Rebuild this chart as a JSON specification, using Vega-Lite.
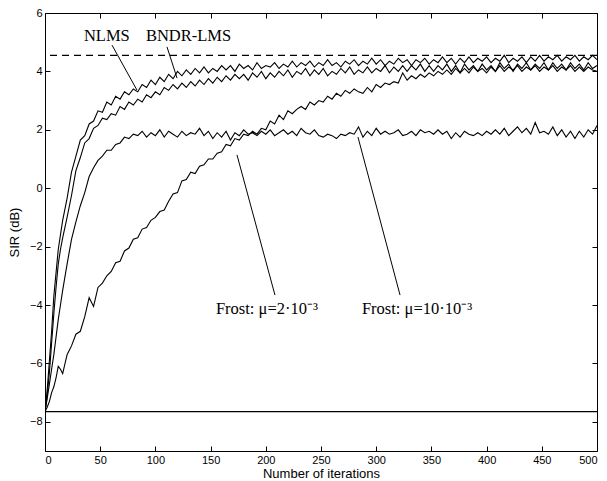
{
  "$schema": "https://vega.github.io/schema/vega-lite/v6.json",
  "autosize": "none",
  "width": 552,
  "height": 438,
  "padding": {"left": 45, "top": 13, "right": 10, "bottom": 30},
  "background": "white",
  "config": {
    "view": {"stroke": "black", "strokeWidth": 1},
    "axis": {
      "domain": false, "grid": false, "tickColor": "black", "tickSize": -5, "labelPadding": 8,
      "labelFont": "Liberation Sans", "labelFontSize": 11, "labelColor": "black",
      "titleFont": "Liberation Sans", "titleFontSize": 13, "titleFontWeight": "normal", "titleColor": "black"
    }
  },
  "datasets": {
    "curves": [
      {"x":0,"N":-7.65,"B":-7.65,"F":-7.65,"S":-7.65},
      {"x":2,"N":-6.9,"B":-7.1,"F":-7.2,"S":-7.5},
      {"x":4,"N":-5.9,"B":-6.3,"F":-6.7,"S":-7.3},
      {"x":6,"N":-4.9,"B":-5.3,"F":-6.2,"S":-7.0},
      {"x":8,"N":-3.7,"B":-4.3,"F":-5.7,"S":-6.8},
      {"x":10,"N":-2.9,"B":-3.4,"F":-5.1,"S":-6.5},
      {"x":12,"N":-2.1,"B":-2.6,"F":-4.5,"S":-6.1},
      {"x":14,"N":-1.6,"B":-2.1,"F":-4.0,"S":-6.2},
      {"x":16,"N":-1.1,"B":-1.7,"F":-3.5,"S":-6.35},
      {"x":20,"N":-0.35,"B":-1.0,"F":-2.6,"S":-5.7},
      {"x":24,"N":0.55,"B":-0.25,"F":-1.75,"S":-5.4},
      {"x":28,"N":1.1,"B":0.6,"F":-1.15,"S":-5.0},
      {"x":32,"N":1.65,"B":1.05,"F":-0.6,"S":-4.9},
      {"x":36,"N":1.8,"B":1.55,"F":-0.15,"S":-4.4},
      {"x":40,"N":2.2,"B":1.7,"F":0.4,"S":-3.75},
      {"x":44,"N":2.3,"B":2.05,"F":0.7,"S":-4.05},
      {"x":48,"N":2.65,"B":2.15,"F":0.95,"S":-3.4},
      {"x":52,"N":2.6,"B":2.4,"F":1.1,"S":-3.25},
      {"x":56,"N":2.95,"B":2.35,"F":1.3,"S":-3.0},
      {"x":60,"N":2.85,"B":2.55,"F":1.3,"S":-2.85},
      {"x":64,"N":3.15,"B":2.5,"F":1.5,"S":-2.55},
      {"x":68,"N":3.05,"B":2.8,"F":1.55,"S":-2.5},
      {"x":72,"N":3.3,"B":2.7,"F":1.75,"S":-2.15},
      {"x":76,"N":3.2,"B":2.95,"F":1.7,"S":-2.05},
      {"x":80,"N":3.4,"B":2.85,"F":1.85,"S":-1.75},
      {"x":84,"N":3.3,"B":3.05,"F":1.8,"S":-1.7},
      {"x":88,"N":3.55,"B":2.95,"F":1.95,"S":-1.4},
      {"x":92,"N":3.45,"B":3.2,"F":1.75,"S":-1.35},
      {"x":96,"N":3.7,"B":3.1,"F":1.9,"S":-1.1},
      {"x":100,"N":3.55,"B":3.3,"F":1.8,"S":-1.0},
      {"x":104,"N":3.8,"B":3.2,"F":2.0,"S":-0.8},
      {"x":108,"N":3.65,"B":3.45,"F":1.75,"S":-0.75},
      {"x":112,"N":3.9,"B":3.35,"F":1.95,"S":-0.45},
      {"x":116,"N":3.75,"B":3.55,"F":1.85,"S":-0.2},
      {"x":120,"N":4.0,"B":3.4,"F":1.75,"S":-0.15},
      {"x":124,"N":3.85,"B":3.6,"F":1.95,"S":0.25},
      {"x":128,"N":4.05,"B":3.45,"F":1.8,"S":0.3},
      {"x":132,"N":3.9,"B":3.65,"F":1.9,"S":0.55},
      {"x":136,"N":4.1,"B":3.5,"F":1.85,"S":0.5},
      {"x":140,"N":3.95,"B":3.7,"F":2.05,"S":0.75},
      {"x":144,"N":4.15,"B":3.55,"F":1.8,"S":0.8},
      {"x":148,"N":3.95,"B":3.75,"F":1.95,"S":1.0},
      {"x":152,"N":4.1,"B":3.6,"F":1.7,"S":1.0},
      {"x":156,"N":4.0,"B":3.8,"F":1.9,"S":1.2},
      {"x":160,"N":4.2,"B":3.65,"F":1.75,"S":1.25},
      {"x":164,"N":4.05,"B":3.85,"F":1.95,"S":1.5},
      {"x":168,"N":4.2,"B":3.7,"F":1.65,"S":1.45},
      {"x":172,"N":4.0,"B":3.9,"F":1.9,"S":1.7},
      {"x":176,"N":4.25,"B":3.75,"F":1.8,"S":1.65},
      {"x":180,"N":4.1,"B":3.9,"F":2.0,"S":1.85},
      {"x":184,"N":4.2,"B":3.7,"F":1.85,"S":1.8},
      {"x":188,"N":4.05,"B":3.95,"F":1.9,"S":1.95},
      {"x":192,"N":4.3,"B":3.8,"F":1.8,"S":1.85},
      {"x":196,"N":4.1,"B":4.0,"F":1.95,"S":2.05},
      {"x":200,"N":4.2,"B":3.75,"F":1.85,"S":2.0},
      {"x":204,"N":4.15,"B":3.95,"F":2.0,"S":2.3},
      {"x":208,"N":4.3,"B":3.8,"F":1.8,"S":2.2},
      {"x":212,"N":4.1,"B":4.0,"F":1.9,"S":2.5},
      {"x":216,"N":4.25,"B":3.85,"F":2.0,"S":2.35},
      {"x":220,"N":4.15,"B":4.05,"F":1.85,"S":2.65},
      {"x":224,"N":4.35,"B":3.8,"F":1.95,"S":2.55},
      {"x":228,"N":4.15,"B":4.0,"F":1.8,"S":2.7},
      {"x":232,"N":4.3,"B":3.9,"F":2.05,"S":2.8},
      {"x":236,"N":4.2,"B":4.1,"F":1.9,"S":2.7},
      {"x":240,"N":4.35,"B":3.85,"F":1.85,"S":2.95},
      {"x":244,"N":4.15,"B":4.05,"F":2.0,"S":2.85},
      {"x":248,"N":4.3,"B":3.9,"F":1.8,"S":3.0},
      {"x":252,"N":4.2,"B":4.1,"F":1.75,"S":2.95},
      {"x":256,"N":4.4,"B":3.85,"F":1.85,"S":3.15},
      {"x":260,"N":4.2,"B":4.0,"F":1.8,"S":3.05},
      {"x":264,"N":4.3,"B":3.9,"F":1.7,"S":3.25},
      {"x":268,"N":4.15,"B":4.1,"F":1.85,"S":3.15},
      {"x":272,"N":4.35,"B":3.95,"F":1.8,"S":3.35},
      {"x":276,"N":4.25,"B":4.15,"F":1.9,"S":3.25},
      {"x":280,"N":4.4,"B":3.9,"F":1.85,"S":3.4},
      {"x":284,"N":4.2,"B":4.05,"F":2.1,"S":3.3},
      {"x":288,"N":4.35,"B":3.95,"F":1.75,"S":3.25},
      {"x":292,"N":4.25,"B":4.15,"F":1.95,"S":3.45},
      {"x":296,"N":4.45,"B":3.95,"F":1.8,"S":3.3},
      {"x":300,"N":4.25,"B":4.1,"F":2.05,"S":3.55},
      {"x":304,"N":4.4,"B":4.0,"F":1.85,"S":3.45},
      {"x":308,"N":4.2,"B":4.2,"F":1.95,"S":3.6},
      {"x":312,"N":4.35,"B":3.95,"F":1.85,"S":3.55},
      {"x":316,"N":4.25,"B":4.15,"F":1.9,"S":3.65},
      {"x":320,"N":4.45,"B":4.0,"F":2.0,"S":3.6},
      {"x":324,"N":4.3,"B":4.2,"F":1.8,"S":3.95},
      {"x":328,"N":4.4,"B":4.0,"F":1.85,"S":3.7},
      {"x":332,"N":4.2,"B":4.2,"F":1.95,"S":3.85},
      {"x":336,"N":4.4,"B":4.05,"F":1.8,"S":3.75},
      {"x":340,"N":4.3,"B":4.25,"F":2.0,"S":3.9},
      {"x":344,"N":4.45,"B":4.0,"F":1.9,"S":3.8},
      {"x":348,"N":4.25,"B":4.2,"F":1.95,"S":3.95},
      {"x":352,"N":4.4,"B":4.0,"F":1.85,"S":3.85},
      {"x":356,"N":4.3,"B":4.2,"F":2.0,"S":4.0},
      {"x":360,"N":4.5,"B":4.05,"F":1.85,"S":3.9},
      {"x":364,"N":4.3,"B":4.25,"F":1.95,"S":4.05},
      {"x":368,"N":4.45,"B":4.0,"F":1.7,"S":3.9},
      {"x":372,"N":4.25,"B":4.2,"F":1.9,"S":4.1},
      {"x":376,"N":4.45,"B":3.95,"F":1.75,"S":3.95},
      {"x":380,"N":4.3,"B":4.25,"F":1.95,"S":4.1},
      {"x":384,"N":4.5,"B":4.05,"F":1.85,"S":3.95},
      {"x":388,"N":4.3,"B":4.2,"F":1.8,"S":4.15},
      {"x":392,"N":4.45,"B":4.0,"F":1.9,"S":4.0},
      {"x":396,"N":4.35,"B":4.25,"F":1.8,"S":4.1},
      {"x":400,"N":4.5,"B":4.05,"F":1.95,"S":3.95},
      {"x":404,"N":4.3,"B":4.2,"F":1.85,"S":4.15},
      {"x":408,"N":4.45,"B":4.0,"F":2.0,"S":4.0},
      {"x":412,"N":4.35,"B":4.3,"F":1.85,"S":4.2},
      {"x":416,"N":4.55,"B":4.1,"F":2.05,"S":4.0},
      {"x":420,"N":4.3,"B":4.25,"F":1.8,"S":4.15},
      {"x":424,"N":4.45,"B":4.0,"F":1.95,"S":4.05},
      {"x":428,"N":4.35,"B":4.25,"F":2.1,"S":4.2},
      {"x":432,"N":4.5,"B":4.1,"F":1.9,"S":4.0},
      {"x":436,"N":4.3,"B":4.3,"F":2.05,"S":4.15},
      {"x":440,"N":4.5,"B":4.05,"F":1.85,"S":4.05},
      {"x":444,"N":4.35,"B":4.25,"F":2.25,"S":4.2},
      {"x":448,"N":4.55,"B":4.1,"F":1.9,"S":4.0},
      {"x":452,"N":4.35,"B":4.3,"F":1.95,"S":4.15},
      {"x":456,"N":4.5,"B":4.05,"F":1.85,"S":4.05},
      {"x":460,"N":4.4,"B":4.3,"F":2.1,"S":4.2},
      {"x":464,"N":4.55,"B":4.1,"F":1.8,"S":4.0},
      {"x":468,"N":4.35,"B":4.25,"F":2.0,"S":4.15},
      {"x":472,"N":4.5,"B":4.05,"F":1.75,"S":4.05},
      {"x":476,"N":4.4,"B":4.3,"F":1.95,"S":4.2},
      {"x":480,"N":4.55,"B":4.1,"F":1.7,"S":4.0},
      {"x":484,"N":4.35,"B":4.25,"F":1.95,"S":4.15},
      {"x":488,"N":4.5,"B":4.05,"F":1.75,"S":4.0},
      {"x":492,"N":4.4,"B":4.3,"F":2.0,"S":4.15},
      {"x":496,"N":4.55,"B":4.1,"F":1.85,"S":4.05},
      {"x":500,"N":4.4,"B":4.2,"F":2.15,"S":4.0}
    ],
    "refs": [
      {"level": 4.55, "kind": "dashed"},
      {"level": -7.65, "kind": "solid"}
    ],
    "leaders": [
      {"x":60.7,"y":4.9,"x2":83.3,"y2":3.36},
      {"x":110.5,"y":4.84,"x2":119.6,"y2":3.77},
      {"x":173.9,"y":1.14,"x2":208.3,"y2":-3.66},
      {"x":283.5,"y":1.75,"x2":321.6,"y2":-3.66}
    ],
    "labels": [
      {"x":56,"y":5.22,"t":"NLMS"},
      {"x":130,"y":5.22,"t":"BNDR-LMS"},
      {"x":201,"y":-4.15,"t":"Frost: μ=2·10⁻³"},
      {"x":337,"y":-4.15,"t":"Frost: μ=10·10⁻³"}
    ]
  },
  "resolve": {"axis": {"x": "independent", "y": "independent"}},
  "layer": [
    {
      "data": {"name": "curves"},
      "transform": [{"fold": ["N", "B", "F", "S"], "as": ["series", "sir"]}],
      "mark": {"type": "line", "color": "black", "strokeWidth": 1.1, "clip": true},
      "encoding": {
        "x": {"field": "x", "type": "quantitative", "scale": {"domain": [0, 500], "nice": false},
              "axis": {"orient": "bottom", "title": "Number of iterations", "values": [0,50,100,150,200,250,300,350,400,450,500], "titlePadding": 2}},
        "y": {"field": "sir", "type": "quantitative", "scale": {"domain": [-9, 6], "nice": false, "zero": false},
              "axis": {"orient": "left", "title": "SIR (dB)", "values": [-8,-6,-4,-2,0,2,4,6], "titlePadding": 8}},
        "detail": {"field": "series"}
      }
    },
    {
      "data": {"name": "curves"},
      "mark": {"type": "rule", "strokeWidth": 0},
      "encoding": {
        "x": {"field": "x", "type": "quantitative", "scale": {"domain": [0, 500], "nice": false},
              "axis": {"orient": "top", "title": null, "labels": false, "values": [0,50,100,150,200,250,300,350,400,450,500]}},
        "y": {"field": "N", "type": "quantitative", "scale": {"domain": [-9, 6], "nice": false, "zero": false},
              "axis": {"orient": "right", "title": null, "labels": false, "values": [-8,-6,-4,-2,0,2,4,6]}}
      }
    },
    {
      "data": {"name": "refs"},
      "transform": [{"filter": "datum.kind === 'dashed'"}],
      "mark": {"type": "rule", "color": "black", "strokeWidth": 1.1, "strokeDash": [7, 5]},
      "encoding": {"y": {"field": "level", "type": "quantitative", "axis": null}}
    },
    {
      "data": {"name": "refs"},
      "transform": [{"filter": "datum.kind === 'solid'"}],
      "mark": {"type": "rule", "color": "black", "strokeWidth": 1.1},
      "encoding": {"y": {"field": "level", "type": "quantitative", "axis": null}}
    },
    {
      "data": {"name": "leaders"},
      "mark": {"type": "rule", "color": "black", "strokeWidth": 1},
      "encoding": {
        "x": {"field": "x", "type": "quantitative", "axis": null},
        "y": {"field": "y", "type": "quantitative", "axis": null},
        "x2": {"field": "x2"},
        "y2": {"field": "y2"}
      }
    },
    {
      "data": {"name": "labels"},
      "mark": {"type": "text", "font": "Liberation Serif", "fontSize": 16.5, "color": "black", "align": "center", "baseline": "middle"},
      "encoding": {
        "x": {"field": "x", "type": "quantitative", "axis": null},
        "y": {"field": "y", "type": "quantitative", "axis": null},
        "text": {"field": "t"}
      }
    }
  ]
}
